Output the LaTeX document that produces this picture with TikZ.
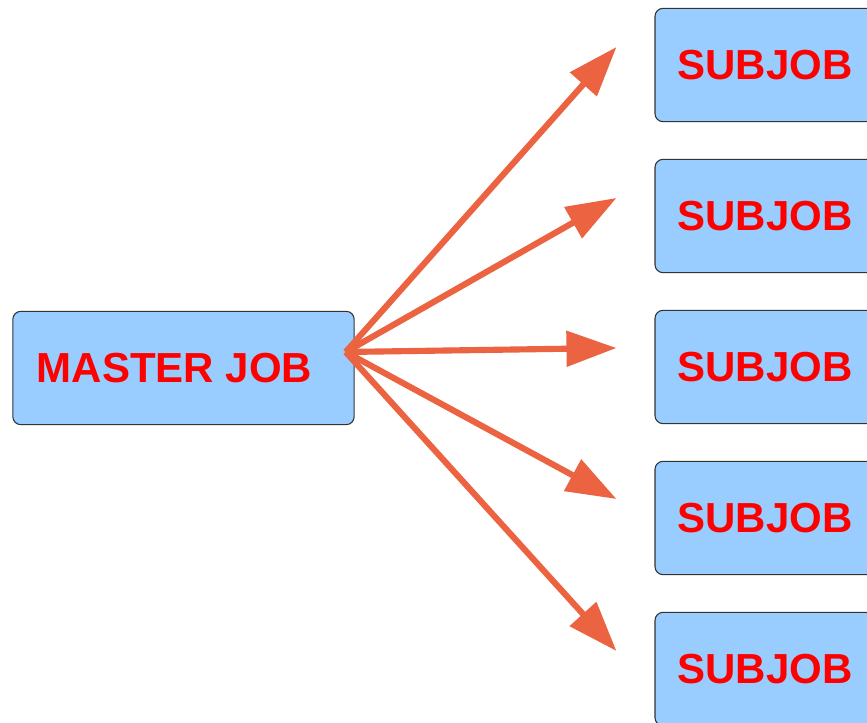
\documentclass[tikz,border=0pt]{standalone}
\usepackage{fontspec}
\newfontfamily\jobfont{Liberation Sans}
\usetikzlibrary{arrows.meta,calc}
\definecolor{jobblue}{RGB}{153,204,255}
\definecolor{jobred}{RGB}{255,0,0}
\definecolor{arroworange}{RGB}{235,99,64}
\tikzset{
  jobbox/.style={rectangle, draw=black!80, line width=0.8pt, fill=jobblue, rounded corners=6pt,
    minimum height=85pt, text=jobred, font=\jobfont\bfseries\fontsize{31.5}{36}\selectfont},
  spawn/.style={-{Triangle[length=37.5pt, width=26pt]}, line width=4.6pt, draw=arroworange}
}
\begin{document}
\begin{tikzpicture}[x=0.75pt, y=-0.75pt]
  \useasboundingbox (0,0) rectangle (867,723);
  % Nodes
  \node (master) [jobbox, minimum width=256pt] at (183.5,368) {MASTER JOB\hspace*{13.5pt}};
  \node (sub1) [jobbox, minimum width=165pt] at (765,65) {SUBJOB};
  \node (sub2) [jobbox, minimum width=165pt] at (765,216) {SUBJOB};
  \node (sub3) [jobbox, minimum width=165pt] at (765,367) {SUBJOB};
  \node (sub4) [jobbox, minimum width=165pt] at (765,518) {SUBJOB};
  \node (sub5) [jobbox, minimum width=165pt] at (765,669) {SUBJOB};
  \coordinate (hub) at ($(master.east)+(-9,-16)$);
  % Arrows
  \draw[spawn] (hub) -- ($(sub1.west)+(-38,-18)$);
  \draw[spawn] (hub) -- ($(sub2.west)+(-38,-18)$);
  \draw[spawn] (hub) -- ($(sub3.west)+(-38,-19)$);
  \draw[spawn] (hub) -- ($(sub4.west)+(-38,-19)$);
  \draw[spawn] (hub) -- ($(sub5.west)+(-38,-18)$);
\end{tikzpicture}
\end{document}
